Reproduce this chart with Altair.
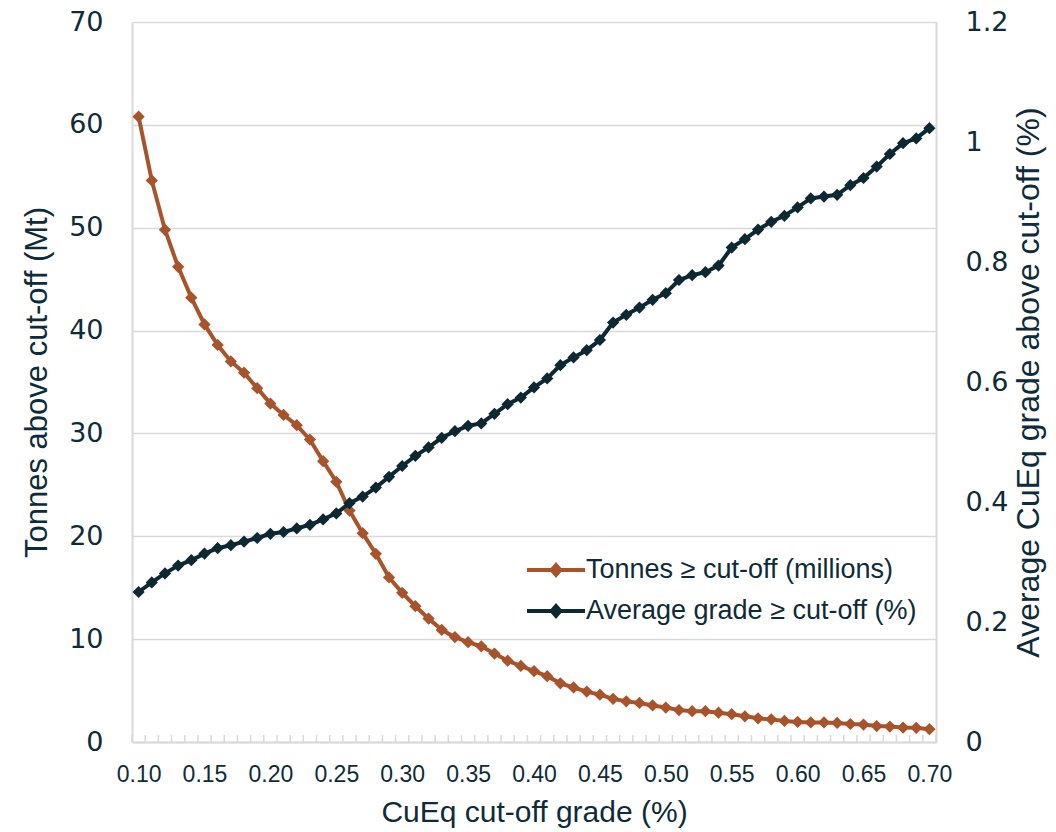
import altair as alt
import pandas as pd

cutoff = [0.10, 0.11, 0.12, 0.13, 0.14, 0.15, 0.16, 0.17, 0.18, 0.19,
          0.20, 0.21, 0.22, 0.23, 0.24, 0.25, 0.26, 0.27, 0.28, 0.29,
          0.30, 0.31, 0.32, 0.33, 0.34, 0.35, 0.36, 0.37, 0.38, 0.39,
          0.40, 0.41, 0.42, 0.43, 0.44, 0.45, 0.46, 0.47, 0.48, 0.49,
          0.50, 0.51, 0.52, 0.53, 0.54, 0.55, 0.56, 0.57, 0.58, 0.59,
          0.60, 0.61, 0.62, 0.63, 0.64, 0.65, 0.66, 0.67, 0.68, 0.69, 0.70]

tonnes = [60.8, 54.6, 49.8, 46.2, 43.2, 40.6, 38.6, 37.0, 35.9, 34.4,
          32.9, 31.8, 30.8, 29.4, 27.3, 25.3, 22.5, 20.3, 18.3, 16.0,
          14.5, 13.2, 12.0, 10.9, 10.2, 9.7, 9.3, 8.6, 7.9, 7.4,
          6.9, 6.4, 5.7, 5.3, 4.9, 4.6, 4.2, 3.95, 3.8, 3.55,
          3.35, 3.1, 3.0, 3.0, 2.85, 2.7, 2.5, 2.3, 2.2, 2.05,
          1.95, 1.9, 1.9, 1.85, 1.75, 1.7, 1.55, 1.5, 1.4, 1.38, 1.25]

grade = [0.250, 0.266, 0.281, 0.294, 0.303, 0.314, 0.323, 0.328, 0.334, 0.340,
         0.347, 0.350, 0.356, 0.362, 0.371, 0.381, 0.398, 0.409, 0.424, 0.442,
         0.460, 0.477, 0.491, 0.507, 0.518, 0.527, 0.531, 0.547, 0.563, 0.574,
         0.591, 0.606, 0.628, 0.641, 0.653, 0.670, 0.699, 0.712, 0.724, 0.737,
         0.748, 0.770, 0.778, 0.783, 0.794, 0.824, 0.838, 0.854, 0.867, 0.877,
         0.891, 0.906, 0.909, 0.912, 0.928, 0.940, 0.959, 0.980, 0.998, 1.006, 1.023]

series_names = ["Tonnes \u2265 cut-off (millions)", "Average grade \u2265 cut-off (%)"]
series_colors = ["#a8532a", "#0b2833"]
x_tick_values = [0.10, 0.15, 0.20, 0.25, 0.30, 0.35, 0.40, 0.45, 0.50, 0.55, 0.60, 0.65, 0.70]
left_ticks = [0, 10, 20, 30, 40, 50, 60, 70]
right_ticks = [0, 0.2, 0.4, 0.6, 0.8, 1.0, 1.2]

TEXT = "#0d2b38"
GRID = "#d9d9d9"

df_t = pd.DataFrame({"cutoff": cutoff, "value": tonnes, "series": series_names[0]})
df_g = pd.DataFrame({"cutoff": cutoff, "value": grade, "series": series_names[1]})
half = (cutoff[1] - cutoff[0]) / 2
bounds = pd.DataFrame({"cutoff": [c - half for c in cutoff] + [cutoff[-1] + half]})

x_domain = [cutoff[0] - half, cutoff[-1] + half]
x_scale = alt.Scale(domain=x_domain, nice=False, zero=False)

x_axis = alt.Axis(
    values=x_tick_values, format=".2f", title="CuEq cut-off grade (%)",
    grid=False, ticks=False, domainColor=GRID, domainWidth=2,
    labelFont="Liberation Sans", labelFontSize=23, labelColor=TEXT, labelPadding=21,
    titleFont="Liberation Sans", titleFontSize=30, titleFontWeight="normal",
    titleColor=TEXT, titlePadding=11,
)
x_enc = alt.X("cutoff:Q", scale=x_scale, axis=x_axis)

legend_path = ("M-1.38,-0.095L1.38,-0.095L1.38,0.095L-1.38,0.095Z"
               "M0,-0.38L0.33,0L0,0.38L-0.33,0Z")

color_enc = alt.Color(
    "series:N",
    scale=alt.Scale(domain=series_names, range=series_colors),
    legend=alt.Legend(
        title=None, orient="none", legendX=403, legendY=527,
        symbolType=legend_path, symbolSize=1764, symbolStrokeWidth=0,
        labelFont="Liberation Sans", labelFontSize=27, labelColor=TEXT,
        labelOffset=9, rowPadding=7, padding=0, labelLimit=500,
    ),
)

y_left = alt.Y(
    "value:Q", scale=alt.Scale(domain=[0, 70], nice=False),
    axis=alt.Axis(
        values=left_ticks, title="Tonnes above cut-off (Mt)", orient="left",
        grid=True, gridColor=GRID, gridWidth=1.5, ticks=False,
        domainColor=GRID, domainWidth=2,
        labelFont="DejaVu Sans", labelFontSize=27, labelColor=TEXT, labelPadding=29,
        titleFont="Liberation Sans", titleFontSize=31, titleFontWeight="normal",
        titleColor=TEXT, titlePadding=15,
    ),
)

y_right = alt.Y(
    "value:Q", scale=alt.Scale(domain=[0, 1.2], nice=False),
    axis=alt.Axis(
        values=right_ticks, format="~g", title="Average CuEq grade above cut-off (%)",
        orient="right", grid=False, ticks=False, domainColor=GRID, domainWidth=2,
        labelFont="DejaVu Sans", labelFontSize=27, labelColor=TEXT, labelPadding=29,
        titleFont="Liberation Sans", titleFontSize=32, titleFontWeight="normal",
        titleColor=TEXT, titlePadding=38, titleAngle=270,
    ),
)

t_base = alt.Chart(df_t).encode(x=x_enc, y=y_left)
t_layer = alt.layer(
    t_base.mark_line(strokeWidth=4, color=series_colors[0]),
    t_base.mark_point(filled=True, shape="diamond", size=150, opacity=1).encode(color=color_enc),
)

g_base = alt.Chart(df_g).encode(x=x_enc, y=y_right)
g_layer = alt.layer(
    g_base.mark_line(strokeWidth=4, color=series_colors[1]),
    g_base.mark_point(filled=True, shape="diamond", size=150, opacity=1).encode(color=color_enc),
)

minor_ticks = alt.Chart(bounds).mark_rule(color=GRID, strokeWidth=1.5).encode(
    x=x_enc,
    y=alt.value(713), y2=alt.value(720),
)

chart = alt.layer(t_layer, g_layer, minor_ticks).resolve_scale(
    y="independent"
).properties(
    width=804, height=720,
    autosize=alt.AutoSizeParams(type="none"),
    padding={"left": 124, "top": 14, "right": 112, "bottom": 90},
).configure_view(stroke=None).configure(background="white")

chart.save("out.html", embed_options={"renderer": "svg", "actions": False})
